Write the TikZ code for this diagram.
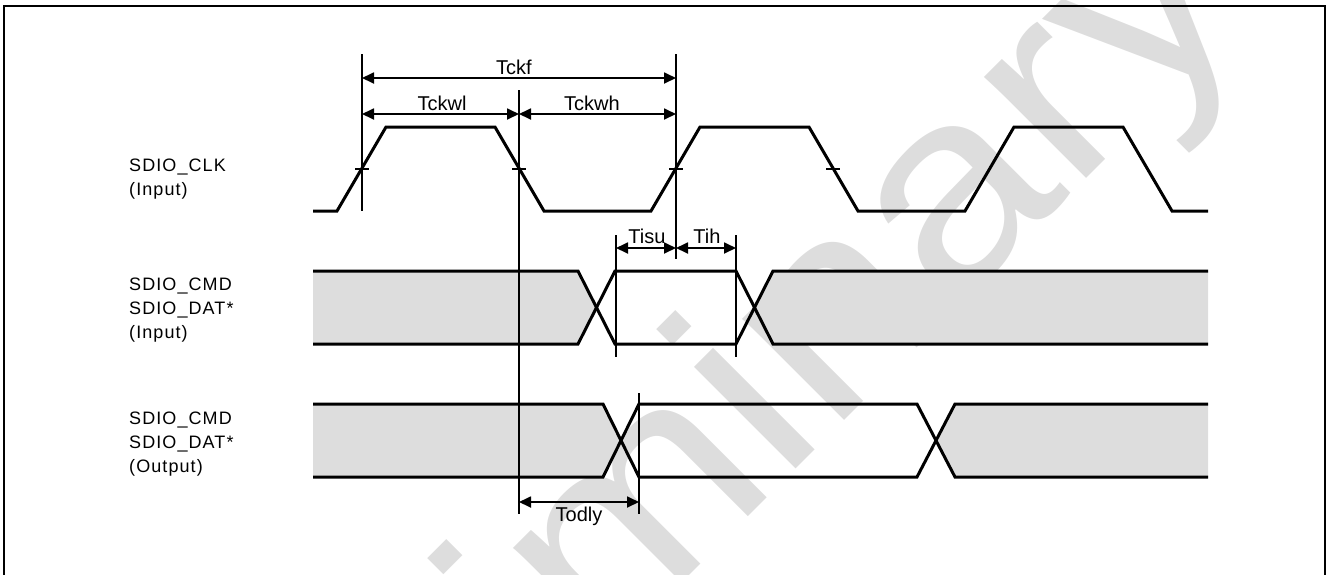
\documentclass[tikz,border=0pt]{standalone}
\usepackage{fontspec}
\setmainfont{Liberation Sans}
\newfontfamily\sigfont{Liberation Sans}[LetterSpace=6]
\usetikzlibrary{arrows.meta}
\definecolor{wavegray}{RGB}{221,221,221}

\tikzset{
    wave/.style={line width=3pt},
    guide/.style={line width=1.3pt},
    dim/.style={line width=1.8pt, {Triangle[length=12pt,width=11pt]}-{Triangle[length=12pt,width=11pt]}},
    siglabel/.style={anchor=north west, align=left, inner sep=0pt, font=\sigfont\fontsize{18}{24}\selectfont},
    dimlabel/.style={anchor=base, inner sep=0pt, font=\fontsize{20}{24}\selectfont}
}

\begin{document}
\begin{tikzpicture}[x=1pt,y=-1pt]
    % Fix the page size
    \useasboundingbox (0,0) rectangle (1328,574);

    % Draw the watermark
    \node[anchor=base west, rotate=45, xscale=1.13, inner sep=0pt, text=wavegray, font=\fontsize{272}{272}\selectfont] (wmark) at (165.8,1099.2) {Preliminary};

    % Draw the frame
    \draw[line width=2pt] (4,600) -- (4,6) -- (1325,6) -- (1325,600);

    % Draw the signal names
    \node[siglabel] (clk) at (129,158.5) {SDIO\_CLK\\(Input)};
    \node[siglabel] (din) at (129,278) {SDIO\_CMD\\SDIO\_DAT*\\(Input)};
    \node[siglabel] (dout) at (129,412) {SDIO\_CMD\\SDIO\_DAT*\\(Output)};

    % Draw the clock
    \draw[wave] (313,211) -- (337,211) -- (386,127) -- (495,127) -- (544,211) -- (651,211) -- (700,127) -- (809,127) -- (858,211) -- (965,211) -- (1014,127) -- (1123,127) -- (1172,211) -- (1208,211);
    \foreach \x in {362,519,676,833}
        \draw[guide] (\x-7,169) -- (\x+7,169);

    % Draw the input data
    \fill[wavegray] (313,271) -- (578,271) -- (596.5,307.5) -- (578,344) -- (313,344) -- cycle;
    \fill[wavegray] (1208,271) -- (773,271) -- (754.5,307.5) -- (773,344) -- (1208,344) -- cycle;
    \draw[wave] (313,271) -- (578,271) -- (615,344) -- (736,344) -- (773,271) -- (1208,271);
    \draw[wave] (313,344) -- (578,344) -- (615,271) -- (736,271) -- (773,344) -- (1208,344);

    % Draw the output data
    \fill[wavegray] (313,404) -- (603,404) -- (621,440.5) -- (603,477) -- (313,477) -- cycle;
    \fill[wavegray] (1208,404) -- (955,404) -- (936,440.5) -- (955,477) -- (1208,477) -- cycle;
    \draw[wave] (313,404) -- (603,404) -- (639,477) -- (917,477) -- (955,404) -- (1208,404);
    \draw[wave] (313,477) -- (603,477) -- (639,404) -- (917,404) -- (955,477) -- (1208,477);

    % Draw the guide lines
    \draw[guide] (362,54) -- (362,211);
    \draw[guide] (519,90) -- (519,514);
    \draw[guide] (676,54) -- (676,259);
    \draw[guide] (616,235) -- (616,357);
    \draw[guide] (736,235) -- (736,357);
    \draw[guide] (639,393) -- (639,514);

    % Draw the timing arrows
    \coordinate (ckfL) at (362,78);
    \coordinate (ckfR) at (676,78);
    \coordinate (cklL) at (362,114);
    \coordinate (cklR) at (519,114);
    \coordinate (ckhR) at (676,114);
    \coordinate (suL) at (616,248);
    \coordinate (suR) at (676,248);
    \coordinate (ihR) at (736,248);
    \coordinate (odL) at (519,502);
    \coordinate (odR) at (639,502);
    \draw[dim] (ckfL) -- (ckfR);
    \draw[dim] (cklL) -- (cklR);
    \draw[dim] (cklR) -- (ckhR);
    \draw[dim] (suL) -- (suR);
    \draw[dim] (suR) -- (ihR);
    \draw[dim] (odL) -- (odR);

    % Label the arrows
    \node[dimlabel] (tckf) at (514,74) {Tckf};
    \node[dimlabel] (tckwl) at (442,110) {Tckwl};
    \node[dimlabel] (tckwh) at (592,110) {Tckwh};
    \node[dimlabel] (tisu) at (647,243) {Tisu};
    \node[dimlabel] (tih) at (707,243) {Tih};
    \node[dimlabel] (todly) at (579,521) {Todly};
\end{tikzpicture}
\end{document}
